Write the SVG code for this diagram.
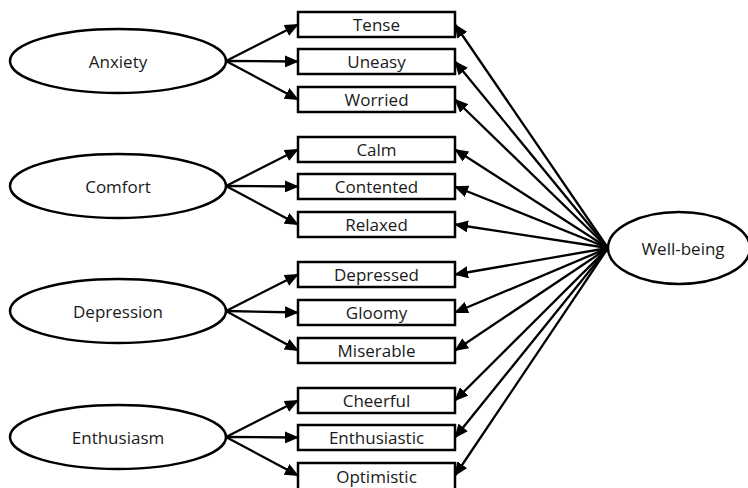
<svg xmlns="http://www.w3.org/2000/svg" width="748" height="488" viewBox="0 0 748 488">
<style>
.n{fill:#fff;stroke:#000;stroke-width:2.5}
.t{font-family:"Open Sans","Liberation Sans",sans-serif;font-size:17px;fill:#1a1a1a;text-anchor:middle;dominant-baseline:central}
.c line{stroke:#000;stroke-width:2.3}
</style>
<defs>
<marker id="a" markerWidth="14" markerHeight="12" refX="13" refY="6" orient="auto" markerUnits="userSpaceOnUse">
<path d="M0,0 L14,6 L0,12 Z" fill="#000"/>
</marker>
</defs>
<g class="c">
<line x1="226" y1="61" x2="298" y2="24.5" marker-end="url(#a)"/>
<line x1="226" y1="61" x2="298" y2="61.5" marker-end="url(#a)"/>
<line x1="226" y1="61" x2="298" y2="99.5" marker-end="url(#a)"/>
<line x1="226" y1="186" x2="298" y2="149.5" marker-end="url(#a)"/>
<line x1="226" y1="186" x2="298" y2="186.5" marker-end="url(#a)"/>
<line x1="226" y1="186" x2="298" y2="224.5" marker-end="url(#a)"/>
<line x1="226" y1="311" x2="298" y2="274.5" marker-end="url(#a)"/>
<line x1="226" y1="311" x2="298" y2="312.5" marker-end="url(#a)"/>
<line x1="226" y1="311" x2="298" y2="350.5" marker-end="url(#a)"/>
<line x1="226" y1="437" x2="298" y2="400.5" marker-end="url(#a)"/>
<line x1="226" y1="437" x2="298" y2="437.5" marker-end="url(#a)"/>
<line x1="226" y1="437" x2="298" y2="475.5" marker-end="url(#a)"/>
<line x1="608" y1="248" x2="455" y2="24.5" marker-end="url(#a)"/>
<line x1="608" y1="248" x2="455" y2="61.5" marker-end="url(#a)"/>
<line x1="608" y1="248" x2="455" y2="99.5" marker-end="url(#a)"/>
<line x1="608" y1="248" x2="455" y2="149.5" marker-end="url(#a)"/>
<line x1="608" y1="248" x2="455" y2="186.5" marker-end="url(#a)"/>
<line x1="608" y1="248" x2="455" y2="224.5" marker-end="url(#a)"/>
<line x1="608" y1="248" x2="455" y2="274.5" marker-end="url(#a)"/>
<line x1="608" y1="248" x2="455" y2="312.5" marker-end="url(#a)"/>
<line x1="608" y1="248" x2="455" y2="350.5" marker-end="url(#a)"/>
<line x1="608" y1="248" x2="455" y2="400.5" marker-end="url(#a)"/>
<line x1="608" y1="248" x2="455" y2="437.5" marker-end="url(#a)"/>
<line x1="608" y1="248" x2="455" y2="475.5" marker-end="url(#a)"/>
</g>
<g id="anxiety"><ellipse class="n" cx="118" cy="61" rx="108" ry="32"/><text class="t" x="118" y="61">Anxiety</text></g>
<g id="comfort"><ellipse class="n" cx="118" cy="186" rx="108" ry="32"/><text class="t" x="118" y="186">Comfort</text></g>
<g id="depression"><ellipse class="n" cx="118" cy="311" rx="108" ry="32"/><text class="t" x="118" y="311">Depression</text></g>
<g id="enthusiasm"><ellipse class="n" cx="118" cy="437" rx="108" ry="32"/><text class="t" x="118" y="437">Enthusiasm</text></g>
<g id="wellbeing"><ellipse class="n" cx="679" cy="248" rx="71" ry="36"/><text class="t" x="683" y="248">Well-being</text></g>
<g id="tense"><rect class="n" x="298" y="12" width="157" height="25"/><text class="t" x="376.5" y="24.5">Tense</text></g>
<g id="uneasy"><rect class="n" x="298" y="49" width="157" height="25"/><text class="t" x="376.5" y="61.5">Uneasy</text></g>
<g id="worried"><rect class="n" x="298" y="87" width="157" height="25"/><text class="t" x="376.5" y="99.5">Worried</text></g>
<g id="calm"><rect class="n" x="298" y="137" width="157" height="25"/><text class="t" x="376.5" y="149.5">Calm</text></g>
<g id="contented"><rect class="n" x="298" y="174" width="157" height="25"/><text class="t" x="376.5" y="186.5">Contented</text></g>
<g id="relaxed"><rect class="n" x="298" y="212" width="157" height="25"/><text class="t" x="376.5" y="224.5">Relaxed</text></g>
<g id="depressed"><rect class="n" x="298" y="262" width="157" height="25"/><text class="t" x="376.5" y="274.5">Depressed</text></g>
<g id="gloomy"><rect class="n" x="298" y="300" width="157" height="25"/><text class="t" x="376.5" y="312.5">Gloomy</text></g>
<g id="miserable"><rect class="n" x="298" y="338" width="157" height="25"/><text class="t" x="376.5" y="350.5">Miserable</text></g>
<g id="cheerful"><rect class="n" x="298" y="388" width="157" height="25"/><text class="t" x="376.5" y="400.5">Cheerful</text></g>
<g id="enthusiastic"><rect class="n" x="298" y="425" width="157" height="25"/><text class="t" x="376.5" y="437.5">Enthusiastic</text></g>
<g id="optimistic"><rect class="n" x="298" y="463" width="157" height="28"/><text class="t" x="376.5" y="476">Optimistic</text></g>
</svg>
